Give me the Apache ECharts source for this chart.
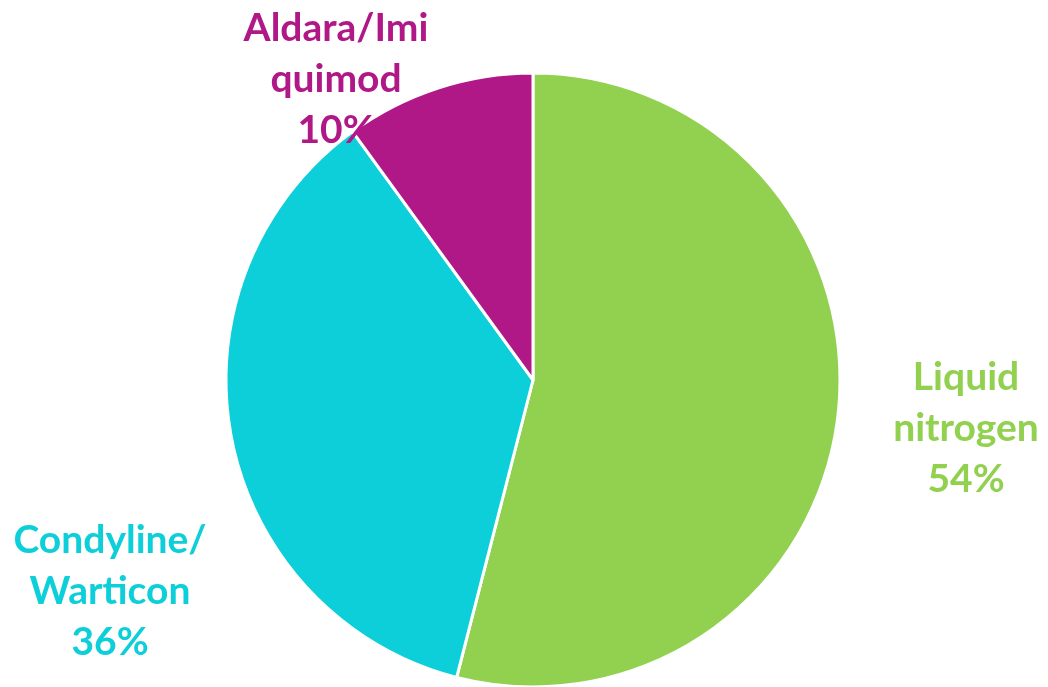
<!DOCTYPE html>
<html>
<head>
<meta charset="utf-8">
<script src="https://cdn.jsdelivr.net/npm/echarts@6/dist/echarts.min.js"></script>
<style>
  html, body { margin: 0; padding: 0; background: #fff; }
  #chart { width: 1048px; height: 687px; }
</style>
</head>
<body>
<div id="chart"></div>
<script>
// 数据
const labels = ['Liquid\nnitrogen', 'Condyline/\nWarticon', 'Aldara/Imi\nquimod'];
const values = [54, 36, 10];
const colors = ['#92D050', '#0DCFD9', '#B01888'];
// 标签位置
const labelPos = [[966, 428], [110, 591], [336, 79]];

const chart = echarts.init(document.getElementById('chart'));

let data = values.map((v, i) => ({
    value: v,
    name: labels[i],
    itemStyle: { color: colors[i] },
    label: { color: colors[i] }
}));

chart.setOption({
    animation: false,
    series: [{
        type: 'pie',
        center: [533, 380],
        radius: 307,
        startAngle: 90,
        clockwise: true,
        itemStyle: {
            borderColor: '#fff',
            borderWidth: 3
        },
        label: {
            show: true,
            position: 'outside',
            formatter: p => p.name + '\n' + p.value + '%',
            fontFamily: 'Lato',
            fontWeight: 'bold',
            fontSize: 39,
            lineHeight: 51,
            align: 'center',
            overflow: 'none',
            width: 300
        },
        labelLine: { show: false },
        labelLayout: function(params) {
            let pos = labelPos[params.dataIndex];
            return {
                x: pos[0],
                y: pos[1],
                align: 'center',
                verticalAlign: 'middle'
            };
        },
        emphasis: { disabled: true },
        data: data
    }]
});
</script>
</body>
</html>
